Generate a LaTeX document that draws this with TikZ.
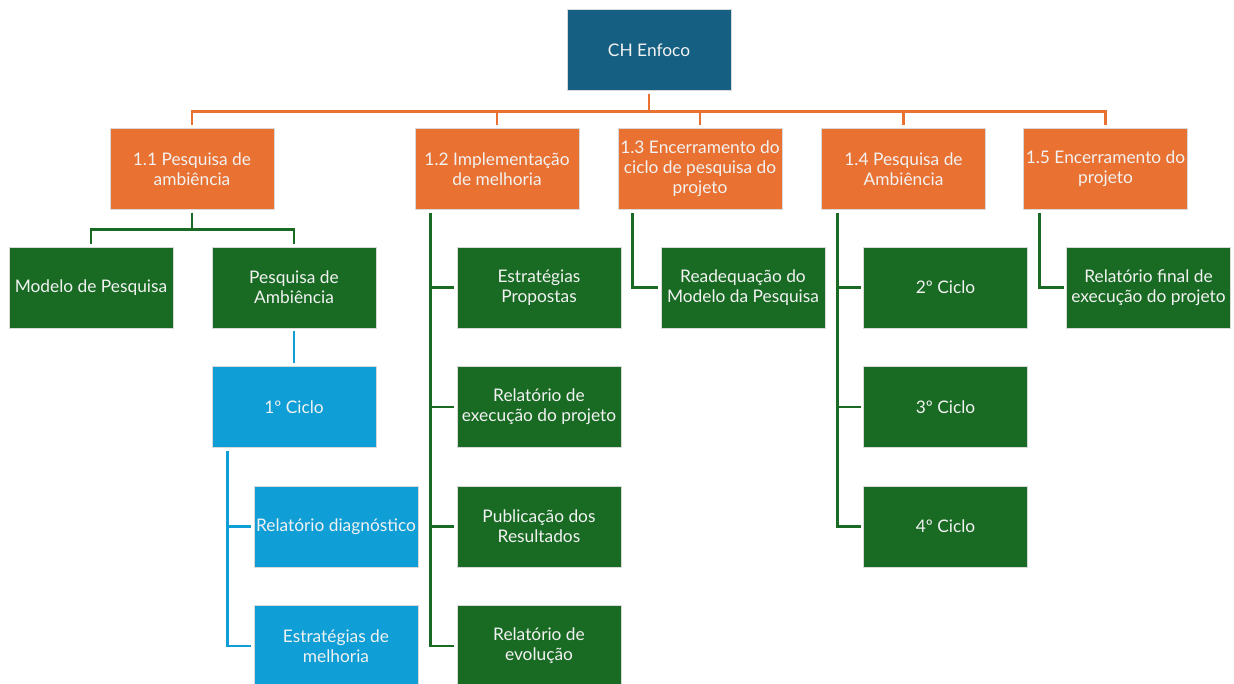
\documentclass[tikz,border=0pt]{standalone}
\usepackage{fontspec}
\setmainfont{Lato}
\usetikzlibrary{calc}
\definecolor{rootblue}{HTML}{156082}
\definecolor{wbsorange}{HTML}{E97132}
\definecolor{wbsgreen}{HTML}{196B24}
\definecolor{wbsblue}{HTML}{0F9ED5}
\tikzset{
  box/.style={rectangle, draw=white!85!black, line width=0.4pt, text=white!95!black,
    minimum width=123pt, minimum height=61pt, align=center, inner sep=0pt,
    font=\fontsize{13}{15}\selectfont},
  rootbox/.style={box, fill=rootblue},
  phasebox/.style={box, fill=wbsorange},
  taskbox/.style={box, fill=wbsgreen},
  cyclebox/.style={box, fill=wbsblue},
  olink/.style={draw=wbsorange, line width=2.2pt},
  glink/.style={draw=wbsgreen, line width=2.2pt},
  blink/.style={draw=wbsblue, line width=2.2pt},
}
\begin{document}
\begin{tikzpicture}[x=0.75pt, y=-0.75pt]
\useasboundingbox (0,0) rectangle (1234,684);
\fill[white] (0,0) rectangle (1234,684);

% top level
\node[rootbox] (root) at (649,50) {CH Enfoco};

% phases
\node[phasebox] (p1) at (192,169) {1.1 Pesquisa de\\ambiência};
\node[phasebox] (p2) at (497,169) {1.2 Implementação\\de melhoria};
\node[phasebox] (p3) at (700,169) {1.3 Encerramento do\\ciclo de pesquisa do\\projeto};
\node[phasebox] (p4) at (903.5,169) {1.4 Pesquisa de\\Ambiência};
\node[phasebox] (p5) at (1105.5,169) {1.5 Encerramento do\\projeto};

% 1.1 children
\node[taskbox] (m1) at (91,287.5) {Modelo de Pesquisa};
\node[taskbox] (a1) at (294,287.5) {Pesquisa de\\Ambiência};
\node[cyclebox] (c1) at (294,407) {1º Ciclo};
\node[cyclebox] (rd) at (336,526.5) {Relatório diagnóstico};
\node[cyclebox] (em) at (336,646) {Estratégias de\\melhoria};

% 1.2 children
\node[taskbox] (ep) at (539,287.5) {Estratégias\\Propostas};
\node[taskbox] (re) at (539,407) {Relatório de\\execução do projeto};
\node[taskbox] (pr) at (539,526.5) {Publicação dos\\Resultados};
\node[taskbox] (rv) at (539,646) {Relatório de\\evolução};

% 1.3 child
\node[taskbox] (rm) at (743,287.5) {Readequação do\\Modelo da Pesquisa};

% 1.4 children
\node[taskbox] (k2) at (945.5,287.5) {2º Ciclo};
\node[taskbox] (k3) at (945.5,407) {3º Ciclo};
\node[taskbox] (k4) at (945.5,526.5) {4º Ciclo};

% 1.5 child
\node[taskbox] (rf) at (1148.5,287.5) {Relatório final de\\execução do projeto};

% root to phases
\foreach \p in {p1,p2,p3,p4,p5}
  \draw[olink] ([yshift=-2pt]root.south) -- ++(0,18) -| ([yshift=2pt]\p.north);

% 1.1 branch
\draw[glink] ([yshift=-2pt]p1.south) -- ++(0,17) -| ([yshift=2pt]m1.north);
\draw[glink] ([yshift=-2pt]p1.south) -- ++(0,17) -| ([yshift=2pt]a1.north);
\draw[blink] ([yshift=-2pt]a1.south) -- ([yshift=2pt]c1.north);
\draw[blink] ($(c1.south west)+(16,3)$) |- ([xshift=-2pt]rd.west);
\draw[blink] ($(c1.south west)+(16,3)$) |- ([xshift=-2pt]em.west);

% 1.2 branch
\foreach \t in {ep,re,pr,rv}
  \draw[glink] ($(p2.south west)+(16,3)$) |- ([xshift=-2pt]\t.west);

% 1.3 branch
\draw[glink] ($(p3.south west)+(15,3)$) |- ([xshift=-2pt]rm.west);

% 1.4 branch
\foreach \t in {k2,k3,k4}
  \draw[glink] ($(p4.south west)+(16,3)$) |- ([xshift=-2pt]\t.west);

% 1.5 branch
\draw[glink] ($(p5.south west)+(16,3)$) |- ([xshift=-2pt]rf.west);
\end{tikzpicture}
\end{document}
